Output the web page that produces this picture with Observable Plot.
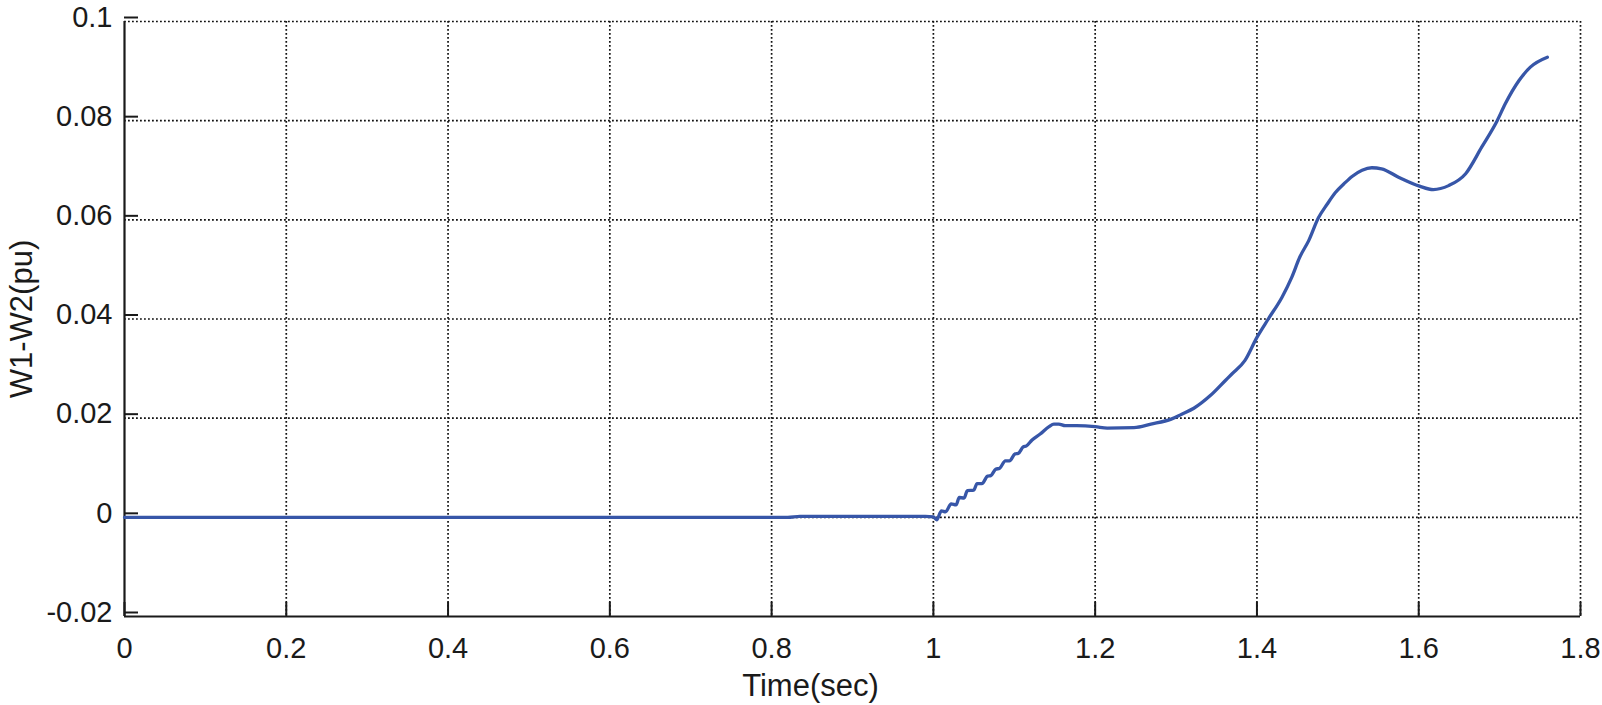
<!DOCTYPE html>
<html>
<head>
<meta charset="utf-8">
<script src="https://cdn.jsdelivr.net/npm/d3@7"></script>
<script src="https://cdn.jsdelivr.net/npm/@observablehq/plot@0.6"></script>
<style>
  html, body { margin: 0; padding: 0; background: #fff; }
  #chart svg { display: block; }
</style>
</head>
<body>
<div id="chart"></div>
<script>
const xLabel = "Time(sec)";
const yLabel = "W1-W2(pu)";
const xTicks = [0, 0.2, 0.4, 0.6, 0.8, 1, 1.2, 1.4, 1.6, 1.8];
const yTicks = [-0.02, 0, 0.02, 0.04, 0.06, 0.08, 0.1];
const xTickLabels = ["0", "0.2", "0.4", "0.6", "0.8", "1", "1.2", "1.4", "1.6", "1.8"];
const yTickLabels = ["-0.02", "0", "0.02", "0.04", "0.06", "0.08", "0.1"];

const time = [0, 0.82, 0.835, 0.99, 1.0, 1.004, 1.010, 1.015, 1.022, 1.028, 1.032, 1.038, 1.042, 1.050, 1.054, 1.060, 1.067, 1.071, 1.077, 1.082, 1.089, 1.094, 1.101, 1.105, 1.111, 1.115, 1.122, 1.132, 1.143, 1.149, 1.155, 1.163, 1.177, 1.200, 1.215, 1.248, 1.269, 1.294, 1.307, 1.322, 1.342, 1.361, 1.369, 1.385, 1.400, 1.414, 1.431, 1.443, 1.453, 1.464, 1.476, 1.487, 1.497, 1.509, 1.518, 1.530, 1.542, 1.554, 1.575, 1.601, 1.618, 1.637, 1.658, 1.678, 1.697, 1.707, 1.724, 1.738, 1.759];
const w1w2 = [0, 0, 0.0002, 0.0002, 0.0001, -0.0005, 0.0013, 0.0011, 0.0027, 0.0025, 0.0040, 0.0039, 0.0054, 0.0055, 0.0068, 0.0068, 0.0083, 0.0084, 0.0097, 0.0099, 0.0114, 0.0114, 0.0128, 0.0129, 0.0142, 0.0144, 0.0156, 0.0168, 0.0183, 0.0188, 0.0188, 0.0185, 0.0185, 0.0183, 0.0180, 0.0181, 0.0188, 0.0198, 0.0208, 0.0220, 0.0245, 0.0276, 0.0289, 0.0316, 0.0363, 0.0400, 0.0444, 0.0484, 0.0525, 0.0558, 0.0604, 0.0632, 0.0655, 0.0675, 0.0688, 0.0700, 0.0705, 0.0703, 0.0686, 0.0668, 0.0661, 0.0669, 0.0693, 0.0747, 0.0800, 0.0834, 0.0881, 0.0908, 0.0928];

const data = time.map((t, i) => ({t, v: w1w2[i]}));
const font = "'Liberation Sans', Arial, Helvetica, sans-serif";
const gridStyle = {stroke: "#111", strokeOpacity: 1, strokeWidth: 1.7, strokeDasharray: "1.8,2.2"};

const chart = Plot.plot({
  width: 1602,
  height: 705,
  marginLeft: 124,
  marginRight: 22,
  marginTop: 21,
  marginBottom: 89,
  style: {fontFamily: font, fontSize: "29px", color: "#1a1a1a", background: "#fff"},
  x: {domain: [0, 1.8]},
  y: {domain: [-0.02, 0.1]},
  marks: [
    Plot.gridX(xTicks.slice(1), gridStyle),
    Plot.gridY(yTicks.slice(1), gridStyle),
    Plot.ruleX([0], {stroke: "#1a1a1a", strokeWidth: 2.2}),
    Plot.ruleY([-0.02], {stroke: "#1a1a1a", strokeWidth: 2.2}),
    Plot.axisX(xTicks, {
      tickSize: -14, tickPadding: 35, strokeWidth: 2,
      tickFormat: (d) => xTickLabels[xTicks.indexOf(d)],
      fontSize: 29, label: null
    }),
    Plot.axisY(yTicks, {
      tickSize: -14, tickPadding: 26, strokeWidth: 2, dy: -4,
      tickFormat: (d) => yTickLabels[yTicks.indexOf(d)],
      fontSize: 29, label: null
    }),
    Plot.line(data, {x: "t", y: "v", stroke: "#3756a8", strokeWidth: 3.3, curve: "monotone-x"}),
    Plot.text([xLabel], {frameAnchor: "bottom", dx: -42, dy: 70, lineAnchor: "middle", textAnchor: "middle", fontSize: 31, fill: "#1a1a1a"}),
    Plot.text([yLabel], {frameAnchor: "left", dx: -102, rotate: -90, lineAnchor: "middle", textAnchor: "middle", fontSize: 31, fill: "#1a1a1a"})
  ]
});
document.getElementById("chart").appendChild(chart);
</script>
</body>
</html>
